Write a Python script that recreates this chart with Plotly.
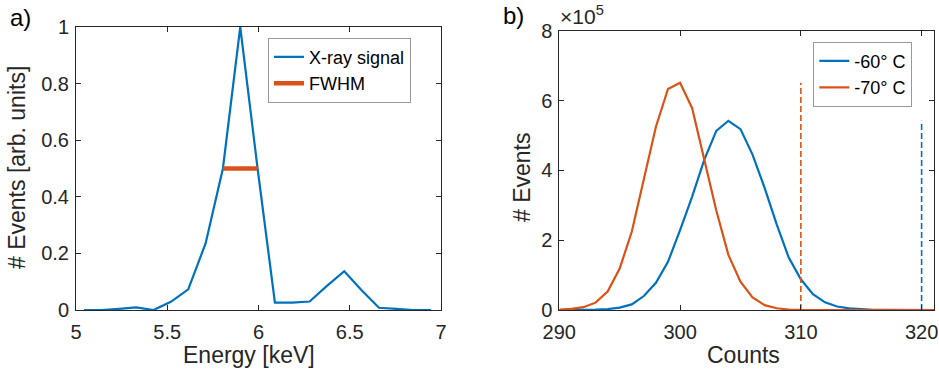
import plotly.graph_objects as go

# ---- Panel a) data ----
energy_kev = [5.044, 5.14, 5.235, 5.33, 5.425, 5.52, 5.615, 5.71, 5.805, 5.90, 5.995,
              6.09, 6.185, 6.28, 6.375, 6.47, 6.565, 6.66, 6.755, 6.85, 6.945]
xray_signal = [0.0, 0.0, 0.004, 0.009, 0.0, 0.029, 0.073, 0.235, 0.5, 1.0, 0.5,
               0.026, 0.026, 0.03, 0.085, 0.137, 0.07, 0.008, 0.004, 0.0, 0.0]
fwhm_x = [5.805, 5.995]
fwhm_y = [0.5, 0.5]

# ---- Panel b) data ----
counts = list(range(290, 322))
events_m60 = [0, 0, 200, 800, 2500, 7000, 16000, 40000, 78000, 138000, 229000, 325000,
              430000, 513000, 542000, 518000, 445000, 350000, 245000, 150000, 88000, 45000,
              22000, 10000, 4500, 1800, 700, 300, 100, 0, 0, 0]
events_m70 = [1000, 3000, 8000, 21000, 53000, 119000, 224000, 377000, 525000, 633000, 651000,
              578000, 430000, 285000, 158000, 81000, 36000, 14000, 5000, 1500, 500, 100,
              0, 0, 0, 0, 0, 0, 0, 0, 0, 0]
threshold_m70_x = [310, 310]
threshold_m70_y = [0, 651000]
threshold_m60_x = [320, 320]
threshold_m60_y = [0, 542000]

yticks_b = [0, 200000, 400000, 600000, 800000]
yticktext_b = ["0", "2", "4", "6", "8"]

BLUE = "#0072BD"
ORANGE = "#D95319"
AX = "#262626"
FONT = "Liberation Sans, Arial, sans-serif"
W, H = 939, 372

fig = go.Figure()

fig.add_trace(go.Scatter(x=energy_kev, y=xray_signal, mode="lines", name="X-ray signal",
                         line=dict(color=BLUE, width=2.2), xaxis="x", yaxis="y", legend="legend"))
fig.add_trace(go.Scatter(x=fwhm_x, y=fwhm_y, mode="lines", name="FWHM",
                         line=dict(color=ORANGE, width=4.5), xaxis="x", yaxis="y", legend="legend"))

fig.add_trace(go.Scatter(x=counts, y=events_m60, mode="lines", name="-60° C",
                         line=dict(color=BLUE, width=2.2), xaxis="x2", yaxis="y2", legend="legend2"))
fig.add_trace(go.Scatter(x=counts, y=events_m70, mode="lines", name="-70° C",
                         line=dict(color=ORANGE, width=2.2), xaxis="x2", yaxis="y2", legend="legend2"))
fig.add_trace(go.Scatter(x=threshold_m70_x, y=threshold_m70_y, mode="lines", showlegend=False,
                         line=dict(color=ORANGE, width=1.6, dash="6px,3px"), xaxis="x2", yaxis="y2"))
fig.add_trace(go.Scatter(x=threshold_m60_x, y=threshold_m60_y, mode="lines", showlegend=False,
                         line=dict(color=BLUE, width=1.6, dash="6px,3px"), xaxis="x2", yaxis="y2"))

def px_x(p):
    return p / W

def px_y(p):
    return 1 - p / H

axis_common = dict(showline=True, linecolor=AX, linewidth=1, mirror="ticks", ticks="inside",
                   ticklen=5, tickcolor=AX, tickwidth=1, showgrid=False, zeroline=False,
                   tickfont=dict(family=FONT, size=20, color=AX), automargin=False)

fig.update_layout(
    width=W, height=H,
    margin=dict(l=0, r=0, t=0, b=0),
    paper_bgcolor="white", plot_bgcolor="white",
    font=dict(family=FONT, color=AX),
    xaxis=dict(domain=[px_x(76), px_x(441)], range=[5, 7], tickvals=[5, 5.5, 6, 6.5, 7],
               anchor="y", ticklabelstandoff=4, **axis_common),
    yaxis=dict(domain=[px_y(310), px_y(27)], range=[0, 1], tickvals=[0, 0.2, 0.4, 0.6, 0.8, 1],
               anchor="x", ticklabelstandoff=2, **axis_common),
    xaxis2=dict(domain=[px_x(559.3), px_x(934.3)], range=[290, 321.05], tickvals=[290, 300, 310, 320],
                anchor="y2", ticklabelstandoff=4, **axis_common),
    yaxis2=dict(domain=[px_y(310), px_y(30.7)], range=[0, 800000], tickvals=yticks_b,
                ticktext=yticktext_b, anchor="x2", ticklabelstandoff=2, **axis_common),
    legend=dict(x=px_x(268), y=px_y(37.7), xanchor="left", yanchor="top",
                bordercolor="#999999", borderwidth=1, bgcolor="white",
                font=dict(family=FONT, size=18, color="black"), tracegroupgap=0),
    legend2=dict(x=px_x(813.3), y=px_y(41.7), xanchor="left", yanchor="top",
                 bordercolor="#999999", borderwidth=1, bgcolor="white",
                 font=dict(family=FONT, size=18, color="black"), tracegroupgap=0),
    showlegend=True,
)

ann_font = dict(family=FONT, size=23, color=AX)
annotations = [
    dict(text="Energy [keV]", x=px_x(249), y=px_y(355), xref="paper", yref="paper",
         xanchor="center", yanchor="middle", showarrow=False, font=ann_font),
    dict(text="# Events [arb. units]", x=px_x(17), y=px_y(168), xref="paper", yref="paper",
         xanchor="center", yanchor="middle", showarrow=False, font=ann_font, textangle=-90),
    dict(text="Counts", x=px_x(743), y=px_y(355), xref="paper", yref="paper",
         xanchor="center", yanchor="middle", showarrow=False, font=ann_font),
    dict(text="# Events", x=px_x(522), y=px_y(177), xref="paper", yref="paper",
         xanchor="center", yanchor="middle", showarrow=False, font=ann_font, textangle=-90),
    dict(text="×10<sup>5</sup>", x=px_x(558), y=px_y(30), xref="paper", yref="paper",
         xanchor="left", yanchor="bottom", showarrow=False, font=dict(family=FONT, size=21, color=AX)),
    dict(text="a)", x=px_x(8), y=px_y(18), xref="paper", yref="paper",
         xanchor="left", yanchor="middle", showarrow=False, font=dict(family=FONT, size=24, color="black")),
    dict(text="b)", x=px_x(501), y=px_y(16), xref="paper", yref="paper",
         xanchor="left", yanchor="middle", showarrow=False, font=dict(family=FONT, size=24, color="black")),
]
fig.update_layout(annotations=annotations)

fig.write_html("out.html")
